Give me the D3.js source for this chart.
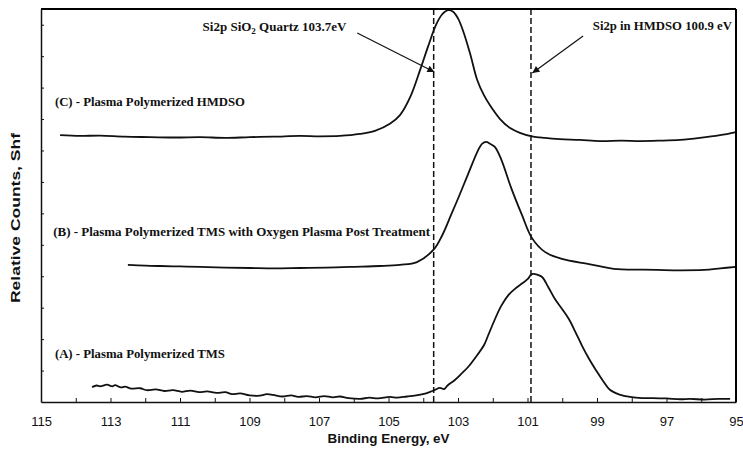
<!DOCTYPE html>
<html><head><meta charset="utf-8">
<script src="https://cdn.jsdelivr.net/npm/d3@7"></script>
<style>
html,body{margin:0;padding:0;background:#fff;}
svg{display:block;}
</style></head>
<body>
<svg id="chart" width="743" height="449"></svg>
<script>
// ---- data ----
const xTickValues = [115,114,113,112,111,110,109,108,107,106,105,104,103,102,101,100,99,98,97,96,95];
const xTickLabels = [115,113,111,109,107,105,103,101,99,97,95];
const yTickValues = [8,16,24,32,40,48,56,64,72,80,88,96];
const refLines = [103.7, 100.9];
const xTitle = "Binding Energy, eV";
const yTitle = "Relative Counts, Shf";

// (C) Plasma Polymerized HMDSO  [binding energy eV, relative counts]
const seriesC = [
 [114.45,67.9],[113.88,67.7],[113.30,67.8],[112.6,67.5],[111.86,67.4],[111.1,67.3],[110.42,67.4],[109.7,67.2],
 [108.99,67.4],[108.3,67.5],[107.55,67.7],[107.0,67.6],[106.40,67.7],[105.82,68.2],[105.39,69.0],[104.96,70.8],
 [104.67,73.0],[104.38,77.5],[104.09,84.5],[103.86,90.5],[103.63,96.0],[103.46,98.6],[103.29,99.7],[103.14,99.3],
 [103.00,97.6],[102.86,94.6],[102.65,88.6],[102.45,82.0],[102.25,78.0],[102.08,75.5],[101.79,72.0],[101.50,69.7],
 [101.22,68.5],[100.87,67.6],[100.5,67.2],[100.07,66.9],[99.5,66.7],[98.91,66.4],[98.3,66.5],[97.76,66.4],
 [97.2,66.5],[96.61,66.7],[96.04,67.2],[95.46,67.9],[95.0,68.7]
];
// (B) Plasma Polymerized TMS with Oxygen Plasma Post Treatment
const seriesB = [
 [112.50,34.9],[112.0,34.7],[111.58,34.6],[111.0,34.5],[110.42,34.4],[109.7,34.2],[108.99,34.1],[108.3,34.0],
 [107.55,34.1],[106.8,34.2],[106.11,34.4],[105.24,34.6],[104.67,34.9],[104.18,35.6],[103.69,38.9],[103.45,42.5],
 [103.20,47.6],[102.95,52.8],[102.71,58.0],[102.42,64.1],[102.31,65.7],[102.19,66.2],[102.08,65.7],[101.94,64.9],
 [101.76,61.8],[101.47,54.5],[101.16,47.6],[100.87,41.7],[100.50,38.2],[100.01,36.4],[99.23,35.1],[98.42,33.8],
 [97.85,33.7],[97.27,33.6],[96.6,33.5],[95.92,33.6],[95.45,34.0],[95.0,34.4]
];
// (A) Plasma Polymerized TMS
const seriesA = [
 [113.53,3.8],[113.40,4.2],[113.30,4.0],[113.10,4.4],[112.95,4.0],[112.87,4.3],[112.70,3.7],[112.58,3.9],
 [112.40,3.4],[112.15,3.5],[111.95,3.0],[111.70,3.2],[111.45,2.8],[111.20,3.0],[110.95,2.6],[110.70,2.9],
 [110.45,2.5],[110.22,2.7],[109.95,2.3],[109.70,2.5],[109.50,2.0],[109.27,2.2],[109.00,1.7],[108.70,1.6],
 [108.50,2.0],[108.32,1.8],[108.05,1.4],[107.80,1.7],[107.60,1.3],[107.35,1.5],[107.10,1.2],[106.85,1.5],
 [106.60,1.2],[106.40,1.4],[106.15,1.0],[105.82,0.8],[105.55,1.1],[105.30,0.9],[104.96,1.3],[104.75,1.1],
 [104.47,1.4],[104.25,1.6],[104.01,2.0],[103.80,2.6],[103.66,3.1],[103.52,3.6],[103.40,3.3],[103.30,4.2],
 [103.09,5.6],[102.90,7.2],[102.71,8.9],[102.50,11.3],[102.25,14.5],[102.14,16.8],[101.95,20.8],[101.76,24.4],
 [101.55,27.2],[101.36,28.8],[101.15,30.2],[100.99,31.3],[100.90,32.4],[100.84,32.6],[100.72,32.4],[100.58,31.8],
 [100.40,29.2],[100.21,26.2],[100.00,23.6],[99.81,21.1],[99.62,17.8],[99.43,14.3],[99.23,11.0],[99.03,8.1],
 [98.83,5.4],[98.63,3.1],[98.35,1.9],[98.05,1.3],[97.70,1.0],[97.39,1.0],[97.00,0.9],[96.60,0.7],
 [96.32,0.8],[95.90,0.6],[95.50,0.8],[95.17,0.8]
];
const seriesLabels = ["(C) - Plasma Polymerized HMDSO",
  "(B) - Plasma Polymerized TMS with Oxygen Plasma Post Treatment",
  "(A) - Plasma Polymerized TMS"];

// ---- layout ----
const pL = 41, pR = 736, pT = 9, pB = 402;
const svg = d3.select("#chart");
const x = d3.scaleLinear().domain([115,95]).range([pL,pR]);
const y = d3.scaleLinear().domain([0,100]).range([pB,pT]);

const sans = "'Liberation Sans Narrow','Liberation Sans',Arial,sans-serif";
const serif = "'Liberation Serif','Times New Roman',serif";

// x axis
const xAxis = d3.axisBottom(x).tickValues(xTickValues).tickSize(-4).tickSizeOuter(0).tickPadding(15)
  .tickFormat(d => xTickLabels.includes(d) ? d : "");
const gx = svg.append("g").attr("transform",`translate(0,${pB})`).call(xAxis);
gx.select(".domain").attr("stroke","#111").attr("stroke-width",1.5);
gx.selectAll(".tick line").attr("stroke","#111").attr("stroke-width",1);
gx.selectAll(".tick text").attr("font-family",sans).attr("font-size",13).attr("fill","#111");

// y axis (ticks only)
const yAxis = d3.axisLeft(y).tickValues(yTickValues).tickSize(-3).tickSizeOuter(0).tickFormat("");
const gy = svg.append("g").attr("transform",`translate(${pL},0)`).call(yAxis);
gy.select(".domain").attr("stroke","#111").attr("stroke-width",1.5);
gy.selectAll(".tick line").attr("stroke","#111").attr("stroke-width",1);

// titles
svg.append("text").attr("x",(pL+pR)/2).attr("y",443).attr("text-anchor","middle")
  .attr("font-family",sans).attr("font-weight","bold").attr("font-size",13)
  .attr("textLength",122).attr("lengthAdjust","spacingAndGlyphs").attr("fill","#111").text(xTitle);
svg.append("text").attr("transform","translate(20,218) rotate(-90)").attr("text-anchor","middle")
  .attr("font-family",sans).attr("font-weight","bold").attr("font-size",13)
  .attr("textLength",170).attr("lengthAdjust","spacingAndGlyphs").attr("fill","#111").text(yTitle);

// reference dashed lines
svg.selectAll("line.ref").data(refLines).enter().append("line").attr("class","ref")
  .attr("x1",d=>x(d)).attr("x2",d=>x(d)).attr("y1",pT).attr("y2",pB)
  .attr("stroke","#111").attr("stroke-width",1.5).attr("stroke-dasharray","6,3");

// curves
const line = d3.line().x(d=>x(d[0])).y(d=>y(d[1])).curve(d3.curveCatmullRom.alpha(0.5));
[seriesC, seriesB, seriesA].forEach(s => {
  svg.append("path").datum(s).attr("d",line).attr("fill","none")
    .attr("stroke","#111").attr("stroke-width",1.8).attr("stroke-linejoin","round");
});

// series labels
const labelPos = [[114.6,75.3],[114.65,42.2],[114.6,11.2]];
const labelLen = [190, 377, 170];
seriesLabels.forEach((t,i) => {
  svg.append("text").attr("x",x(labelPos[i][0])).attr("y",y(labelPos[i][1]))
    .attr("font-family",serif).attr("font-weight","bold").attr("font-size",12.8)
    .attr("textLength",labelLen[i]).attr("lengthAdjust","spacingAndGlyphs")
    .attr("fill","#111").text(t);
});

// annotations
const defs = svg.append("defs");
defs.append("marker").attr("id","arr").attr("viewBox","0 0 10 10").attr("refX",10).attr("refY",5)
  .attr("markerWidth",9).attr("markerHeight",7).attr("markerUnits","userSpaceOnUse").attr("orient","auto")
  .append("path").attr("d","M0,0 L10,5 L0,10 Z").attr("fill","#111");

const a1 = svg.append("text").attr("x",x(110.35)).attr("y",31)
  .attr("font-family",serif).attr("font-weight","bold").attr("font-size",13).attr("fill","#111");
a1.append("tspan").text("Si2p SiO");
a1.append("tspan").attr("font-size",9).attr("dy",3).text("2");
a1.append("tspan").attr("dy",-3).text(" Quartz 103.7eV");
svg.append("line").attr("x1",x(105.9)).attr("y1",33).attr("x2",x(103.68)).attr("y2",72)
  .attr("stroke","#111").attr("stroke-width",1.2).attr("marker-end","url(#arr)");

svg.append("text").attr("x",x(99.12)).attr("y",30)
  .attr("font-family",serif).attr("font-weight","bold").attr("font-size",13).attr("fill","#111")
  .attr("textLength",139).attr("lengthAdjust","spacingAndGlyphs")
  .text("Si2p in HMDSO 100.9 eV");
svg.append("line").attr("x1",x(99.4)).attr("y1",36).attr("x2",x(100.86)).attr("y2",73)
  .attr("stroke","#111").attr("stroke-width",1.2).attr("marker-end","url(#arr)");

// top and right frame edges (drawn last)
svg.append("line").attr("x1",pL).attr("y1",pT).attr("x2",pR).attr("y2",pT)
  .attr("stroke","#000").attr("stroke-width",2);
svg.append("line").attr("x1",pR).attr("y1",pT).attr("x2",pR).attr("y2",pB)
  .attr("stroke","#000").attr("stroke-width",2);
</script>
</body></html>
